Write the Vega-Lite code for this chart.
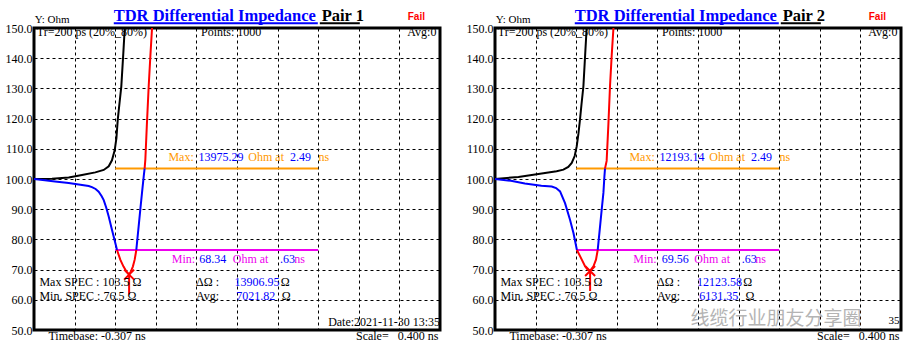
{
  "$schema": "https://vega.github.io/schema/vega-lite/v6.json",
  "padding": {"left": 3, "top": 6, "right": 5, "bottom": 5},
  "background": "white",
  "data": {"values": [
    {"pair": "Pair 1", "kind": "curve", "seg": "blk", "role": "k", "t": -0.307, "v": 100.0},
    {"pair": "Pair 1", "kind": "curve", "seg": "blk", "role": "k", "t": -0.13, "v": 100.1},
    {"pair": "Pair 1", "kind": "curve", "seg": "blk", "role": "k", "t": 0.035, "v": 100.5},
    {"pair": "Pair 1", "kind": "curve", "seg": "blk", "role": "k", "t": 0.166, "v": 101.3},
    {"pair": "Pair 1", "kind": "curve", "seg": "blk", "role": "k", "t": 0.297, "v": 102.2},
    {"pair": "Pair 1", "kind": "curve", "seg": "blk", "role": "k", "t": 0.38, "v": 103.0},
    {"pair": "Pair 1", "kind": "curve", "seg": "blk", "role": "k", "t": 0.429, "v": 104.2},
    {"pair": "Pair 1", "kind": "curve", "seg": "blk", "role": "k", "t": 0.461, "v": 106.2},
    {"pair": "Pair 1", "kind": "curve", "seg": "blk", "role": "k", "t": 0.488, "v": 109.5},
    {"pair": "Pair 1", "kind": "curve", "seg": "blk", "role": "k", "t": 0.505, "v": 113.5},
    {"pair": "Pair 1", "kind": "curve", "seg": "blk", "role": "k", "t": 0.518, "v": 119.6},
    {"pair": "Pair 1", "kind": "curve", "seg": "blk", "role": "k", "t": 0.535, "v": 125.0},
    {"pair": "Pair 1", "kind": "curve", "seg": "blk", "role": "k", "t": 0.553, "v": 130.6},
    {"pair": "Pair 1", "kind": "curve", "seg": "blk", "role": "k", "t": 0.573, "v": 141.7},
    {"pair": "Pair 1", "kind": "curve", "seg": "blk", "role": "k", "t": 0.587, "v": 150.0},
    {"pair": "Pair 1", "kind": "curve", "seg": "b1", "role": "b", "t": -0.307, "v": 100.0},
    {"pair": "Pair 1", "kind": "curve", "seg": "b1", "role": "b", "t": -0.2, "v": 99.6},
    {"pair": "Pair 1", "kind": "curve", "seg": "b1", "role": "b", "t": -0.1, "v": 99.2},
    {"pair": "Pair 1", "kind": "curve", "seg": "b1", "role": "b", "t": 0.035, "v": 98.7},
    {"pair": "Pair 1", "kind": "curve", "seg": "b1", "role": "b", "t": 0.15, "v": 98.1},
    {"pair": "Pair 1", "kind": "curve", "seg": "b1", "role": "b", "t": 0.232, "v": 97.7},
    {"pair": "Pair 1", "kind": "curve", "seg": "b1", "role": "b", "t": 0.264, "v": 97.3},
    {"pair": "Pair 1", "kind": "curve", "seg": "b1", "role": "b", "t": 0.3, "v": 96.7},
    {"pair": "Pair 1", "kind": "curve", "seg": "b1", "role": "b", "t": 0.33, "v": 95.8},
    {"pair": "Pair 1", "kind": "curve", "seg": "b1", "role": "b", "t": 0.36, "v": 94.3},
    {"pair": "Pair 1", "kind": "curve", "seg": "b1", "role": "b", "t": 0.38, "v": 93.0},
    {"pair": "Pair 1", "kind": "curve", "seg": "b1", "role": "b", "t": 0.405, "v": 90.5},
    {"pair": "Pair 1", "kind": "curve", "seg": "b1", "role": "b", "t": 0.429, "v": 87.6},
    {"pair": "Pair 1", "kind": "curve", "seg": "b1", "role": "b", "t": 0.461, "v": 83.2},
    {"pair": "Pair 1", "kind": "curve", "seg": "b1", "role": "b", "t": 0.494, "v": 78.8},
    {"pair": "Pair 1", "kind": "curve", "seg": "b1", "role": "b", "t": 0.511, "v": 76.5},
    {"pair": "Pair 1", "kind": "curve", "seg": "r1", "role": "r", "t": 0.511, "v": 76.5},
    {"pair": "Pair 1", "kind": "curve", "seg": "r1", "role": "r", "t": 0.543, "v": 73.3},
    {"pair": "Pair 1", "kind": "curve", "seg": "r1", "role": "r", "t": 0.575, "v": 71.0},
    {"pair": "Pair 1", "kind": "curve", "seg": "r1", "role": "r", "t": 0.605, "v": 69.3},
    {"pair": "Pair 1", "kind": "curve", "seg": "r1", "role": "r", "t": 0.63, "v": 68.34},
    {"pair": "Pair 1", "kind": "curve", "seg": "r1", "role": "r", "t": 0.648, "v": 69.4},
    {"pair": "Pair 1", "kind": "curve", "seg": "r1", "role": "r", "t": 0.667, "v": 71.0},
    {"pair": "Pair 1", "kind": "curve", "seg": "r1", "role": "r", "t": 0.685, "v": 73.3},
    {"pair": "Pair 1", "kind": "curve", "seg": "r1", "role": "r", "t": 0.701, "v": 76.5},
    {"pair": "Pair 1", "kind": "curve", "seg": "b2", "role": "b", "t": 0.701, "v": 76.5},
    {"pair": "Pair 1", "kind": "curve", "seg": "b2", "role": "b", "t": 0.724, "v": 84.3},
    {"pair": "Pair 1", "kind": "curve", "seg": "b2", "role": "b", "t": 0.74, "v": 89.8},
    {"pair": "Pair 1", "kind": "curve", "seg": "b2", "role": "b", "t": 0.757, "v": 95.4},
    {"pair": "Pair 1", "kind": "curve", "seg": "b2", "role": "b", "t": 0.774, "v": 100.9},
    {"pair": "Pair 1", "kind": "curve", "seg": "b2", "role": "b", "t": 0.783, "v": 103.5},
    {"pair": "Pair 1", "kind": "curve", "seg": "r2", "role": "r", "t": 0.783, "v": 103.5},
    {"pair": "Pair 1", "kind": "curve", "seg": "r2", "role": "r", "t": 0.79, "v": 106.4},
    {"pair": "Pair 1", "kind": "curve", "seg": "r2", "role": "r", "t": 0.805, "v": 118.0},
    {"pair": "Pair 1", "kind": "curve", "seg": "r2", "role": "r", "t": 0.823, "v": 130.7},
    {"pair": "Pair 1", "kind": "curve", "seg": "r2", "role": "r", "t": 0.84, "v": 141.0},
    {"pair": "Pair 1", "kind": "curve", "seg": "r2", "role": "r", "t": 0.856, "v": 150.0},

    {"pair": "Pair 2", "kind": "curve", "seg": "blk", "role": "k", "t": -0.307, "v": 100.0},
    {"pair": "Pair 2", "kind": "curve", "seg": "blk", "role": "k", "t": -0.076, "v": 100.7},
    {"pair": "Pair 2", "kind": "curve", "seg": "blk", "role": "k", "t": 0.153, "v": 101.8},
    {"pair": "Pair 2", "kind": "curve", "seg": "blk", "role": "k", "t": 0.3, "v": 102.6},
    {"pair": "Pair 2", "kind": "curve", "seg": "blk", "role": "k", "t": 0.367, "v": 103.1},
    {"pair": "Pair 2", "kind": "curve", "seg": "blk", "role": "k", "t": 0.415, "v": 104.0},
    {"pair": "Pair 2", "kind": "curve", "seg": "blk", "role": "k", "t": 0.449, "v": 105.3},
    {"pair": "Pair 2", "kind": "curve", "seg": "blk", "role": "k", "t": 0.478, "v": 107.6},
    {"pair": "Pair 2", "kind": "curve", "seg": "blk", "role": "k", "t": 0.498, "v": 110.8},
    {"pair": "Pair 2", "kind": "curve", "seg": "blk", "role": "k", "t": 0.515, "v": 115.0},
    {"pair": "Pair 2", "kind": "curve", "seg": "blk", "role": "k", "t": 0.53, "v": 119.6},
    {"pair": "Pair 2", "kind": "curve", "seg": "blk", "role": "k", "t": 0.546, "v": 125.0},
    {"pair": "Pair 2", "kind": "curve", "seg": "blk", "role": "k", "t": 0.564, "v": 130.7},
    {"pair": "Pair 2", "kind": "curve", "seg": "blk", "role": "k", "t": 0.581, "v": 141.0},
    {"pair": "Pair 2", "kind": "curve", "seg": "blk", "role": "k", "t": 0.596, "v": 150.0},
    {"pair": "Pair 2", "kind": "curve", "seg": "b1", "role": "b", "t": -0.307, "v": 100.0},
    {"pair": "Pair 2", "kind": "curve", "seg": "b1", "role": "b", "t": -0.15, "v": 99.4},
    {"pair": "Pair 2", "kind": "curve", "seg": "b1", "role": "b", "t": -0.013, "v": 98.5},
    {"pair": "Pair 2", "kind": "curve", "seg": "b1", "role": "b", "t": 0.15, "v": 97.8},
    {"pair": "Pair 2", "kind": "curve", "seg": "b1", "role": "b", "t": 0.252, "v": 97.5},
    {"pair": "Pair 2", "kind": "curve", "seg": "b1", "role": "b", "t": 0.295, "v": 97.0},
    {"pair": "Pair 2", "kind": "curve", "seg": "b1", "role": "b", "t": 0.334, "v": 95.9},
    {"pair": "Pair 2", "kind": "curve", "seg": "b1", "role": "b", "t": 0.383, "v": 92.0},
    {"pair": "Pair 2", "kind": "curve", "seg": "b1", "role": "b", "t": 0.432, "v": 86.5},
    {"pair": "Pair 2", "kind": "curve", "seg": "b1", "role": "b", "t": 0.466, "v": 82.1},
    {"pair": "Pair 2", "kind": "curve", "seg": "b1", "role": "b", "t": 0.5, "v": 76.5},
    {"pair": "Pair 2", "kind": "curve", "seg": "r1", "role": "r", "t": 0.5, "v": 76.5},
    {"pair": "Pair 2", "kind": "curve", "seg": "r1", "role": "r", "t": 0.548, "v": 73.3},
    {"pair": "Pair 2", "kind": "curve", "seg": "r1", "role": "r", "t": 0.58, "v": 71.1},
    {"pair": "Pair 2", "kind": "curve", "seg": "r1", "role": "r", "t": 0.608, "v": 69.9},
    {"pair": "Pair 2", "kind": "curve", "seg": "r1", "role": "r", "t": 0.63, "v": 69.56},
    {"pair": "Pair 2", "kind": "curve", "seg": "r1", "role": "r", "t": 0.663, "v": 71.1},
    {"pair": "Pair 2", "kind": "curve", "seg": "r1", "role": "r", "t": 0.688, "v": 73.3},
    {"pair": "Pair 2", "kind": "curve", "seg": "r1", "role": "r", "t": 0.705, "v": 76.5},
    {"pair": "Pair 2", "kind": "curve", "seg": "b2", "role": "b", "t": 0.705, "v": 76.5},
    {"pair": "Pair 2", "kind": "curve", "seg": "b2", "role": "b", "t": 0.728, "v": 84.3},
    {"pair": "Pair 2", "kind": "curve", "seg": "b2", "role": "b", "t": 0.744, "v": 89.8},
    {"pair": "Pair 2", "kind": "curve", "seg": "b2", "role": "b", "t": 0.761, "v": 95.4},
    {"pair": "Pair 2", "kind": "curve", "seg": "b2", "role": "b", "t": 0.771, "v": 100.9},
    {"pair": "Pair 2", "kind": "curve", "seg": "b2", "role": "b", "t": 0.777, "v": 103.5},
    {"pair": "Pair 2", "kind": "curve", "seg": "r2", "role": "r", "t": 0.777, "v": 103.5},
    {"pair": "Pair 2", "kind": "curve", "seg": "r2", "role": "r", "t": 0.793, "v": 106.0},
    {"pair": "Pair 2", "kind": "curve", "seg": "r2", "role": "r", "t": 0.81, "v": 118.0},
    {"pair": "Pair 2", "kind": "curve", "seg": "r2", "role": "r", "t": 0.826, "v": 130.7},
    {"pair": "Pair 2", "kind": "curve", "seg": "r2", "role": "r", "t": 0.843, "v": 141.0},
    {"pair": "Pair 2", "kind": "curve", "seg": "r2", "role": "r", "t": 0.86, "v": 150.0},

    {"pair": "Pair 1", "kind": "spec", "role": "o", "t": 0.493, "t2": 2.493, "v": 103.5},
    {"pair": "Pair 1", "kind": "spec", "role": "m", "t": 0.493, "t2": 2.493, "v": 76.5},
    {"pair": "Pair 2", "kind": "spec", "role": "o", "t": 0.493, "t2": 2.493, "v": 103.5},
    {"pair": "Pair 2", "kind": "spec", "role": "m", "t": 0.493, "t2": 2.493, "v": 76.5},

    {"pair": "Pair 1", "kind": "uline", "role": "b", "t": 0.479, "t2": 2.489, "v": 151.6},
    {"pair": "Pair 1", "kind": "uline", "role": "k", "t": 2.509, "t2": 2.903, "v": 151.6},
    {"pair": "Pair 2", "kind": "uline", "role": "b", "t": 0.479, "t2": 2.489, "v": 151.6},
    {"pair": "Pair 2", "kind": "uline", "role": "k", "t": 2.509, "t2": 2.903, "v": 151.6},

    {"pair": "Pair 1", "kind": "minmark", "role": "r", "t": 0.63, "v": 68.34},
    {"pair": "Pair 2", "kind": "minmark", "role": "r", "t": 0.63, "v": 69.56},

    {"pair": "Pair 1", "kind": "small", "role": "k", "t": -0.3, "v": 151.8, "text": "Y: Ohm"},
    {"pair": "Pair 1", "kind": "title", "role": "b", "t": 0.478, "v": 152.4, "text": "TDR  Differential  Impedance"},
    {"pair": "Pair 1", "kind": "title", "role": "k", "t": 2.527, "v": 152.4, "text": "Pair 1"},
    {"pair": "Pair 1", "kind": "fail", "role": "r", "t": 3.375, "v": 152.5, "text": "Fail"},
    {"pair": "Pair 1", "kind": "txt", "role": "k", "t": -0.28, "v": 147.2, "text": "Tr=200  ps (20%_80%)"},
    {"pair": "Pair 1", "kind": "txt", "role": "k", "t": 1.338, "v": 147.2, "text": "Points:  1000"},
    {"pair": "Pair 1", "kind": "txtR", "role": "k", "t": 3.658, "v": 147.2, "text": "Avg:0"},
    {"pair": "Pair 1", "kind": "txt", "role": "o", "t": 1.017, "v": 105.8, "text": "Max:"},
    {"pair": "Pair 1", "kind": "txt", "role": "b", "t": 1.313, "v": 105.8, "text": "13975.29"},
    {"pair": "Pair 1", "kind": "txt", "role": "o", "t": 1.805, "v": 105.8, "text": "Ohm at"},
    {"pair": "Pair 1", "kind": "txt", "role": "b", "t": 2.215, "v": 105.8, "text": "2.49"},
    {"pair": "Pair 1", "kind": "txt", "role": "o", "t": 2.495, "v": 105.8, "text": "ns"},
    {"pair": "Pair 1", "kind": "txt", "role": "m", "t": 1.05, "v": 72.3, "text": "Min:"},
    {"pair": "Pair 1", "kind": "txt", "role": "b", "t": 1.322, "v": 72.3, "text": "68.34"},
    {"pair": "Pair 1", "kind": "txt", "role": "m", "t": 1.651, "v": 72.3, "text": "Ohm at"},
    {"pair": "Pair 1", "kind": "txt", "role": "b", "t": 2.117, "v": 72.3, "text": ".63"},
    {"pair": "Pair 1", "kind": "txt", "role": "m", "t": 2.258, "v": 72.3, "text": "ns"},
    {"pair": "Pair 1", "kind": "txt", "role": "k", "t": -0.254, "v": 64.6, "text": "Max SPEC : 103.5 Ω"},
    {"pair": "Pair 1", "kind": "txt", "role": "k", "t": -0.254, "v": 59.95, "text": "Min. SPEC : 76.5 Ω"},
    {"pair": "Pair 1", "kind": "txt", "role": "k", "t": 1.289, "v": 64.6, "text": "ΔΩ :"},
    {"pair": "Pair 1", "kind": "txt", "role": "b", "t": 1.668, "v": 64.6, "text": "13906.95"},
    {"pair": "Pair 1", "kind": "txt", "role": "k", "t": 2.125, "v": 64.6, "text": "Ω"},
    {"pair": "Pair 1", "kind": "txt", "role": "k", "t": 1.289, "v": 59.95, "text": "Avg:"},
    {"pair": "Pair 1", "kind": "txt", "role": "b", "t": 1.685, "v": 59.95, "text": "7021.82"},
    {"pair": "Pair 1", "kind": "txt", "role": "k", "t": 2.133, "v": 59.95, "text": "Ω"},
    {"pair": "Pair 1", "kind": "txtR", "role": "k", "t": 3.693, "v": 51.3, "text": "Date:2021-11-30 13:35"},
    {"pair": "Pair 1", "kind": "txt", "role": "k", "t": -0.165, "v": 46.7, "text": "Timebase: -0.307  ns"},
    {"pair": "Pair 1", "kind": "txt", "role": "k", "t": 2.865, "v": 46.7, "text": "Scale="},
    {"pair": "Pair 1", "kind": "txtR", "role": "k", "t": 3.677, "v": 46.7, "text": "0.400 ns"},

    {"pair": "Pair 2", "kind": "small", "role": "k", "t": -0.3, "v": 151.8, "text": "Y: Ohm"},
    {"pair": "Pair 2", "kind": "title", "role": "b", "t": 0.478, "v": 152.4, "text": "TDR  Differential  Impedance"},
    {"pair": "Pair 2", "kind": "title", "role": "k", "t": 2.527, "v": 152.4, "text": "Pair 2"},
    {"pair": "Pair 2", "kind": "fail", "role": "r", "t": 3.375, "v": 152.5, "text": "Fail"},
    {"pair": "Pair 2", "kind": "txt", "role": "k", "t": -0.28, "v": 147.2, "text": "Tr=200  ps (20%_80%)"},
    {"pair": "Pair 2", "kind": "txt", "role": "k", "t": 1.338, "v": 147.2, "text": "Points:  1000"},
    {"pair": "Pair 2", "kind": "txtR", "role": "k", "t": 3.658, "v": 147.2, "text": "Avg:0"},
    {"pair": "Pair 2", "kind": "txt", "role": "o", "t": 1.017, "v": 105.8, "text": "Max:"},
    {"pair": "Pair 2", "kind": "txt", "role": "b", "t": 1.313, "v": 105.8, "text": "12193.14"},
    {"pair": "Pair 2", "kind": "txt", "role": "o", "t": 1.805, "v": 105.8, "text": "Ohm at"},
    {"pair": "Pair 2", "kind": "txt", "role": "b", "t": 2.215, "v": 105.8, "text": "2.49"},
    {"pair": "Pair 2", "kind": "txt", "role": "o", "t": 2.495, "v": 105.8, "text": "ns"},
    {"pair": "Pair 2", "kind": "txt", "role": "m", "t": 1.056, "v": 72.3, "text": "Min:"},
    {"pair": "Pair 2", "kind": "txt", "role": "b", "t": 1.335, "v": 72.3, "text": "69.56"},
    {"pair": "Pair 2", "kind": "txt", "role": "m", "t": 1.657, "v": 72.3, "text": "Ohm at"},
    {"pair": "Pair 2", "kind": "txt", "role": "b", "t": 2.124, "v": 72.3, "text": ".63"},
    {"pair": "Pair 2", "kind": "txt", "role": "m", "t": 2.256, "v": 72.3, "text": "ns"},
    {"pair": "Pair 2", "kind": "txt", "role": "k", "t": -0.254, "v": 64.6, "text": "Max SPEC : 103.5 Ω"},
    {"pair": "Pair 2", "kind": "txt", "role": "k", "t": -0.254, "v": 59.95, "text": "Min. SPEC : 76.5 Ω"},
    {"pair": "Pair 2", "kind": "txt", "role": "k", "t": 1.289, "v": 64.6, "text": "ΔΩ :"},
    {"pair": "Pair 2", "kind": "txt", "role": "b", "t": 1.683, "v": 64.6, "text": "12123.58"},
    {"pair": "Pair 2", "kind": "txt", "role": "k", "t": 2.14, "v": 64.6, "text": "Ω"},
    {"pair": "Pair 2", "kind": "txt", "role": "k", "t": 1.289, "v": 59.95, "text": "Avg:"},
    {"pair": "Pair 2", "kind": "txt", "role": "b", "t": 1.705, "v": 59.95, "text": "6131.35"},
    {"pair": "Pair 2", "kind": "txt", "role": "k", "t": 2.16, "v": 59.95, "text": "Ω"},
    {"pair": "Pair 2", "kind": "small", "role": "k", "t": 3.57, "v": 52.0, "text": "35"},
    {"pair": "Pair 2", "kind": "wm", "role": "w", "t": 1.62, "v": 51.8, "text": "线缆行业朋友分享圈"},
    {"pair": "Pair 2", "kind": "txt", "role": "k", "t": -0.165, "v": 46.7, "text": "Timebase: -0.307  ns"},
    {"pair": "Pair 2", "kind": "txt", "role": "k", "t": 2.865, "v": 46.7, "text": "Scale="},
    {"pair": "Pair 2", "kind": "txtR", "role": "k", "t": 3.677, "v": 46.7, "text": "0.400 ns"}
  ]},
  "facet": {"column": {"field": "pair", "type": "nominal", "header": {"title": null, "labels": false, "labelPadding": 0, "titlePadding": 0}}},
  "spacing": {"column": 22},
  "resolve": {"axis": {"y": "independent"}},
  "spec": {
    "width": 406,
    "height": 302,
    "encoding": {
      "x": {"field": "t", "type": "quantitative", "scale": {"domain": [-0.307, 3.693], "nice": false, "zero": false},
        "axis": {"values": [0.093, 0.493, 0.893, 1.293, 1.693, 2.093, 2.493, 2.893, 3.293], "labels": false, "ticks": false, "domain": false, "title": null, "grid": true, "gridColor": "#000000", "gridDash": [3, 3], "gridOpacity": 1, "gridWidth": 1}},
      "y": {"field": "v", "type": "quantitative", "scale": {"domain": [50, 150], "nice": false, "zero": false},
        "axis": {"values": [50, 60, 70, 80, 90, 100, 110, 120, 130, 140, 150], "format": ".1f", "labelFont": "Liberation Serif", "labelFontSize": 12, "labelColor": "#000000", "labelPadding": 2, "labelFlush": false, "ticks": false, "domain": false, "title": null, "grid": true, "gridColor": "#000000", "gridDash": [3, 3], "gridOpacity": 1, "gridWidth": 1}},
      "color": {"field": "role", "type": "nominal", "legend": null,
        "scale": {"domain": ["k", "b", "r", "o", "m", "w"], "range": ["#000000", "#0000FF", "#FF0000", "#FF9900", "#EE00EE", "#A8A8A8"]}}
    },
    "layer": [
      {"transform": [{"filter": "datum.kind === 'spec'"}], "mark": {"type": "rule", "strokeWidth": 2}, "encoding": {"x2": {"field": "t2"}}},
      {"transform": [{"filter": "datum.kind === 'curve'"}], "mark": {"type": "line", "strokeWidth": 2}, "encoding": {"detail": {"field": "seg"}}},
      {"transform": [{"filter": "datum.kind === 'minmark'"}], "mark": {"type": "point", "shape": "M-1,-1L1,1M1,-1L-1,1M0,0L0,4", "filled": false, "strokeWidth": 2, "size": 100, "opacity": 1}},
      {"transform": [{"filter": "datum.kind === 'uline'"}], "mark": {"type": "rule", "strokeWidth": 2}, "encoding": {"x2": {"field": "t2"}}},
      {"transform": [{"filter": "datum.kind === 'wm'"}], "mark": {"type": "text", "align": "left", "baseline": "alphabetic", "font": "Noto Sans CJK SC", "fontSize": 19, "opacity": 0.85}, "encoding": {"text": {"field": "text"}}},
      {"transform": [{"filter": "datum.kind === 'txt'"}], "mark": {"type": "text", "align": "left", "baseline": "alphabetic", "font": "Liberation Serif", "fontSize": 12}, "encoding": {"text": {"field": "text"}}},
      {"transform": [{"filter": "datum.kind === 'txtR'"}], "mark": {"type": "text", "align": "right", "baseline": "alphabetic", "font": "Liberation Serif", "fontSize": 12}, "encoding": {"text": {"field": "text"}}},
      {"transform": [{"filter": "datum.kind === 'small'"}], "mark": {"type": "text", "align": "left", "baseline": "alphabetic", "font": "Liberation Serif", "fontSize": 11}, "encoding": {"text": {"field": "text"}}},
      {"transform": [{"filter": "datum.kind === 'title'"}], "mark": {"type": "text", "align": "left", "baseline": "alphabetic", "font": "Liberation Serif", "fontSize": 16.5, "fontWeight": "bold"}, "encoding": {"text": {"field": "text"}}},
      {"transform": [{"filter": "datum.kind === 'fail'"}], "mark": {"type": "text", "align": "left", "baseline": "alphabetic", "font": "Liberation Sans", "fontSize": 10, "fontWeight": "bold"}, "encoding": {"text": {"field": "text"}}}
    ]
  },
  "config": {
    "view": {"stroke": "#000000", "strokeWidth": 3},
    "font": "Liberation Serif"
  }
}
